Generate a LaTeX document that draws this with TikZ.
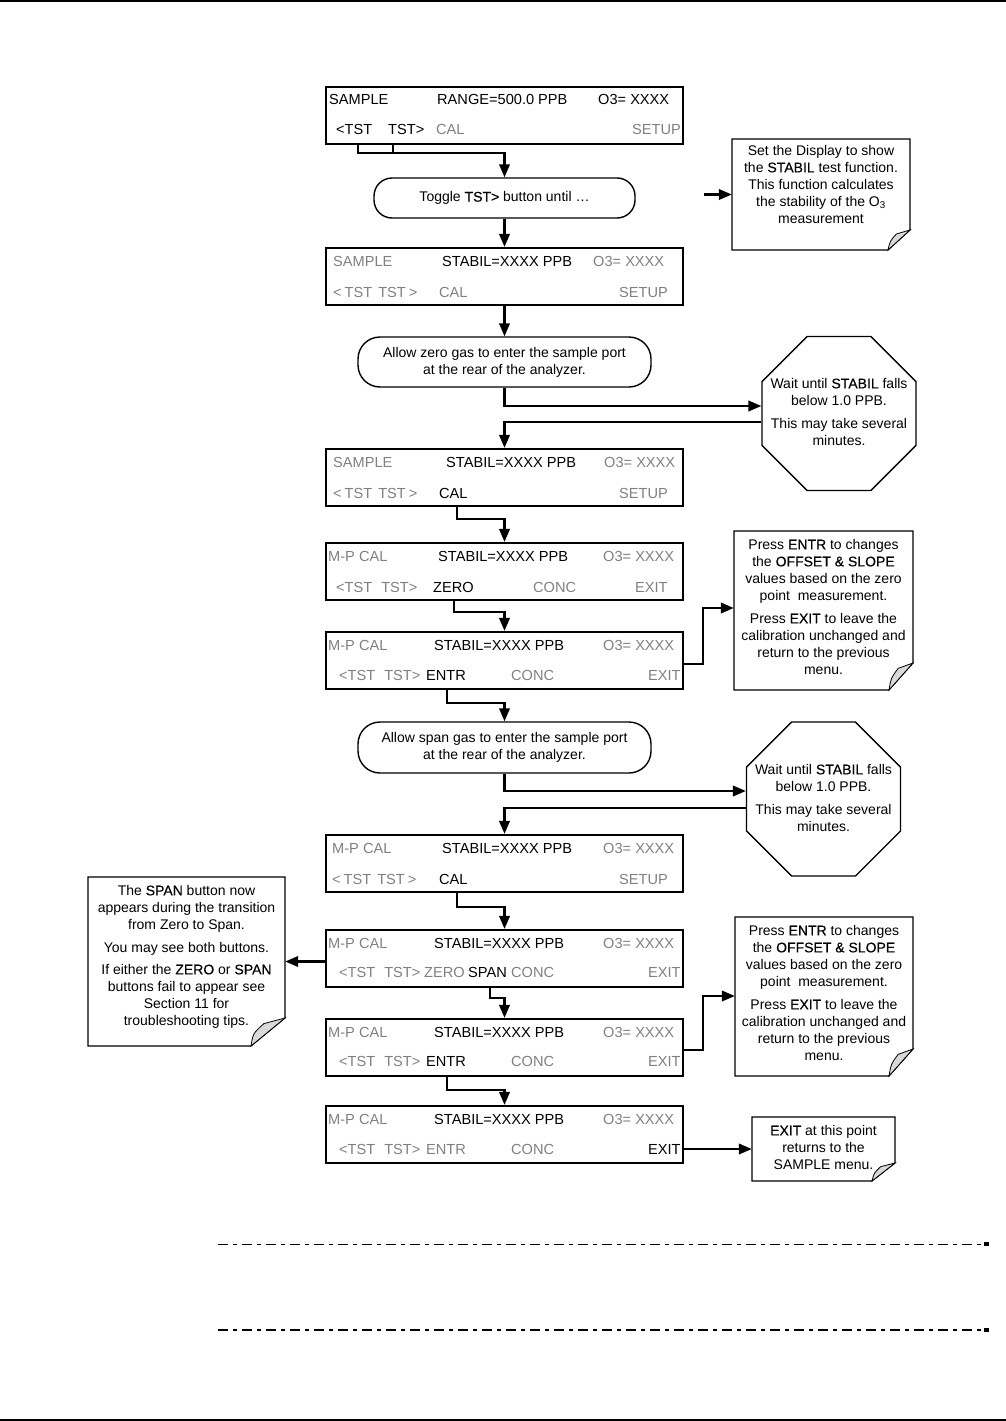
\documentclass[tikz,border=0pt]{standalone}
\usepackage{fontspec}
\setmainfont{Liberation Sans}
\newfontfamily\hbfont[FakeBold=0.35]{Liberation Sans}
\usetikzlibrary{shapes.geometric,arrows.meta,calc}
\newcommand\hb[1]{{\hbfont #1}}
\newcommand\tsts{<\hspace{3pt}TST\hspace{6pt}TST\hspace{3pt}>}
\newcommand\tstn{<TST\hspace{9pt}TST>}
\definecolor{dimtext}{gray}{0.5}
\newcommand\foldnote[7]{%
  \node[inner sep=0pt, minimum width={#4-#2}, minimum height={#5-#3}] (#1) at ({(#2+#4)/2},{(#3+#5)/2}) {};
  \draw[notebd] (#2,#3) -- (#4,#3) -- (#4,#5-#7) -- (#4-#6,#5) -- (#2,#5) -- cycle;
  \filldraw[flap] (#4-#6,#5) .. controls (#4-#6+2,#5-#7*0.45) .. (#4-#6*0.62,#5-#7*0.8) -- (#4,#5-#7) -- cycle;
}
\tikzset{
  basefont/.style={font=\fontsize{14}{17}\selectfont},
  panfont/.style={font=\fontsize{14.6}{17}\selectfont},
  panel/.style={draw, line width=2.2pt, minimum width=357pt, minimum height=57pt, inner sep=0pt},
  ptxt/.style={panfont, anchor=base west, inner sep=0pt},
  dim/.style={ptxt, text=dimtext},
  conn/.style={line width=2.2pt},
  arr/.style={conn, -{Triangle[length=13pt,width=10.5pt]}},
  rbox/.style={draw, line width=1.4pt, inner sep=0pt, align=center, basefont},
  octa/.style={draw, line width=1.3pt, regular polygon, regular polygon sides=8, minimum size=166.7pt, inner sep=0pt},
  ntxt/.style={basefont, align=center, inner sep=0pt, anchor=north},
  notebd/.style={line width=1.1pt},
  flap/.style={fill=black!15, line width=0.8pt},
}
\begin{document}
\begin{tikzpicture}[x=1pt,y=-1pt]
\useasboundingbox (0,0) rectangle (1006,1421);
% page rules
\draw[line width=1.5pt] (0,1) -- (1006,1);
\draw[line width=1.5pt] (0,1420) -- (1006,1420);

% ---------- panel 1
\node[panel] (p1) at (504.5,115.5) {};
\node[ptxt] (p1s) at (329,104) {SAMPLE};
\node[ptxt] (p1r) at (437,104) {RANGE=500.0 PPB};
\node[ptxt] (p1o) at (598,104) {O3= XXXX};
\node[ptxt] (p1a) at (336,134) {<TST};
\node[ptxt] (p1b) at (388,134) {TST>};
\node[dim] (p1c) at (436,134) {CAL};
\node[dim] (p1d) at (632,134) {SETUP};

\node[rbox, rounded corners=18pt, minimum width=261pt, minimum height=40pt] (tg) at (504.5,198) {Toggle \hb{TST>} button until \ldots};

% note 1
\foldnote{n1}{732}{139}{910}{250}{22}{20}
\node[ntxt] (n1t) at (821,145) {Set the Display to show\\ the \hb{STABIL} test function.\\ This function calculates\\ the stability of the O\textsubscript{3}\\ measurement};
\coordinate (n1in) at (704,194.5);

% ---------- panel 2
\node[panel] (p2) at (504.5,276.5) {};
\node[dim] (p2s) at (333,266) {SAMPLE};
\node[ptxt] (p2r) at (442,266) {STABIL=XXXX PPB};
\node[dim] (p2o) at (593,266) {O3= XXXX};
\node[dim] (p2a) at (333,297) {\tsts};
\node[dim] (p2c) at (439,297) {CAL};
\node[dim] (p2d) at (619,297) {SETUP};

\node[rbox, rounded corners=22pt, minimum width=293pt, minimum height=50pt] (zg) at (504.5,362) {Allow zero gas to enter the sample port\\ at the rear of the analyzer.};

% octagon 1
\node[octa] (o1) at (839,413.5) {};
\node[ntxt] (o1t) at (839,378) {Wait until \hb{STABIL} falls\\ below 1.0 PPB.\\[6pt] This may take several\\ minutes.};

% ---------- panel 3
\node[panel] (p3) at (504.5,477.5) {};
\node[dim] (p3s) at (333,467) {SAMPLE};
\node[ptxt] (p3r) at (446,467) {STABIL=XXXX PPB};
\node[dim] (p3o) at (604,467) {O3= XXXX};
\node[dim] (p3a) at (333,498) {\tsts};
\node[ptxt] (p3c) at (439,498) {CAL};
\node[dim] (p3d) at (619,498) {SETUP};

% ---------- panel 4
\node[panel] (p4) at (504.5,571.5) {};
\node[dim] (p4s) at (328,561) {M-P CAL};
\node[ptxt] (p4r) at (438,561) {STABIL=XXXX PPB};
\node[dim] (p4o) at (603,561) {O3= XXXX};
\node[dim] (p4a) at (336,592) {\tstn};
\node[ptxt] (p4z) at (433,592) {ZERO};
\node[dim] (p4c) at (533,592) {CONC};
\node[dim] (p4e) at (635,592) {EXIT};

% ---------- panel 5
\node[panel] (p5) at (504.5,660.5) {};
\node[dim] (p5s) at (328,650) {M-P CAL};
\node[ptxt] (p5r) at (434,650) {STABIL=XXXX PPB};
\node[dim] (p5o) at (603,650) {O3= XXXX};
\node[dim] (p5a) at (339,680) {\tstn};
\node[ptxt] (p5n) at (426,680) {ENTR};
\node[dim] (p5c) at (511,680) {CONC};
\node[dim] (p5e) at (648,680) {EXIT};

% note 2
\foldnote{n2}{734}{531}{913}{690}{24}{27}
\node[ntxt] (n2t) at (823.5,539) {Press \hb{ENTR} to changes\\ the \hb{OFFSET \& SLOPE}\\ values based on the zero\\ point\ \ measurement.\\[6pt] Press \hb{EXIT} to leave the\\ calibration unchanged and\\ return to the previous\\ menu.};

\node[rbox, rounded corners=22pt, minimum width=293pt, minimum height=51pt] (sg) at (504.5,747.5) {Allow span gas to enter the sample port\\ at the rear of the analyzer.};

% octagon 2
\node[octa] (o2) at (823.5,799) {};
\node[ntxt] (o2t) at (823.5,764) {Wait until \hb{STABIL} falls\\ below 1.0 PPB.\\[6pt] This may take several\\ minutes.};

% ---------- panel 6
\node[panel] (p6) at (504.5,863.5) {};
\node[dim] (p6s) at (332,853) {M-P CAL};
\node[ptxt] (p6r) at (442,853) {STABIL=XXXX PPB};
\node[dim] (p6o) at (603,853) {O3= XXXX};
\node[dim] (p6a) at (332,884) {\tsts};
\node[ptxt] (p6c) at (439,884) {CAL};
\node[dim] (p6d) at (619,884) {SETUP};

% ---------- panel 7
\node[panel] (p7) at (504.5,958.5) {};
\node[dim] (p7s) at (328,948) {M-P CAL};
\node[ptxt] (p7r) at (434,948) {STABIL=XXXX PPB};
\node[dim] (p7o) at (603,948) {O3= XXXX};
\node[dim] (p7a) at (339,977) {\tstn};
\node[dim] (p7z) at (424,977) {ZERO};
\node[ptxt] (p7p) at (468,977) {SPAN};
\node[dim] (p7c) at (511,977) {CONC};
\node[dim] (p7e) at (648,977) {EXIT};

% note 3
\foldnote{n3}{88}{877}{285}{1046}{34}{28}
\node[ntxt] (n3t) at (186.5,885) {The \hb{SPAN} button now\\ appears during the transition\\ from Zero to Span.\\[6pt] You may see both buttons.\\[5pt] If either the \hb{ZERO} or \hb{SPAN}\\ buttons fail to appear see\\ Section 11 for\\ troubleshooting tips.};

% note 4
\foldnote{n4}{735}{917}{913}{1076}{24}{27}
\node[ntxt] (n4t) at (824,925) {Press \hb{ENTR} to changes\\ the \hb{OFFSET \& SLOPE}\\ values based on the zero\\ point\ \ measurement.\\[6pt] Press \hb{EXIT} to leave the\\ calibration unchanged and\\ return to the previous\\ menu.};

% ---------- panel 8
\node[panel] (p8) at (504.5,1047.5) {};
\node[dim] (p8s) at (328,1037) {M-P CAL};
\node[ptxt] (p8r) at (434,1037) {STABIL=XXXX PPB};
\node[dim] (p8o) at (603,1037) {O3= XXXX};
\node[dim] (p8a) at (339,1066) {\tstn};
\node[ptxt] (p8n) at (426,1066) {ENTR};
\node[dim] (p8c) at (511,1066) {CONC};
\node[dim] (p8e) at (648,1066) {EXIT};

% ---------- panel 9
\node[panel] (p9) at (504.5,1134.5) {};
\node[dim] (p9s) at (328,1124) {M-P CAL};
\node[ptxt] (p9r) at (434,1124) {STABIL=XXXX PPB};
\node[dim] (p9o) at (603,1124) {O3= XXXX};
\node[dim] (p9a) at (339,1154) {\tstn};
\node[dim] (p9n) at (426,1154) {ENTR};
\node[dim] (p9c) at (511,1154) {CONC};
\node[ptxt] (p9e) at (648,1154) {EXIT};

% note 5
\foldnote{n5}{752}{1117}{895}{1181}{23}{18}
\node[ntxt] (n5t) at (823.5,1125) {\hb{EXIT} at this point\\ returns to the\\ SAMPLE menu.};

% ---------- connectors
\draw[arr] (p1a.west |- p1.south) ++(22,0) -- ++(0,8) -| (tg.north);
\draw[conn] (p1b.west |- p1.south) ++(5,0) -- ++(0,8);
\draw[arr] (n1in) -- (n1.west);
\draw[arr] (tg.south) -- (p2.north);
\draw[arr] (p2.south) -- (zg.north);
\draw[arr] (zg.south) |- ($(o1.west)+(0,-7.5)$);
\draw[arr] ($(o1.west)+(0,8.5)$) -| (p3.north);
\draw[arr] (p3c.west |- p3.south) ++(18,0) -- ++(0,12) -| (p4.north);
\draw[arr] (p4z.west |- p4.south) ++(21,0) -- ++(0,11) -| (p5.north);
\draw[arr] ($(p5.east)+(0,3.5)$) -- ++(19,0) |- ($(n2.west)+(0,-2.5)$);
\draw[arr] (p5n.west |- p5.south) ++(21,0) -- ++(0,13) -| (sg.north);
\draw[arr] (sg.south) |- ($(o2.west)+(0,-8)$);
\draw[arr] ($(o2.west)+(0,9)$) -| (p6.north);
\draw[arr] (p6c.west |- p6.south) ++(18,0) -- ++(0,14) -| (p7.north);
\draw[arr] (p7.west |- n3.east) -- (n3.east);
\draw[arr] (p7p.west |- p7.south) ++(22,0) -- ++(0,10) -| (p8.north);
\draw[arr] ($(p8.east)+(0,2.5)$) -- ++(19,0) |- ($(n4.west)+(0,-0.5)$);
\draw[arr] (p8n.west |- p8.south) ++(21,0) -- ++(0,13) -| (p9.north);
\draw[arr] (p9.east |- n5.west) -- (n5.west);

% ---------- dash-dot rules
\draw[line width=1pt, dash pattern=on 10pt off 5pt on 4pt off 5pt] (218,1244) -- (983,1244);
\fill (984,1242) rectangle (989,1246);
\draw[line width=2pt, dash pattern=on 10pt off 5pt on 4pt off 5pt] (218,1330) -- (983,1330);
\fill (984,1328) rectangle (989,1332);
\end{tikzpicture}
\end{document}
